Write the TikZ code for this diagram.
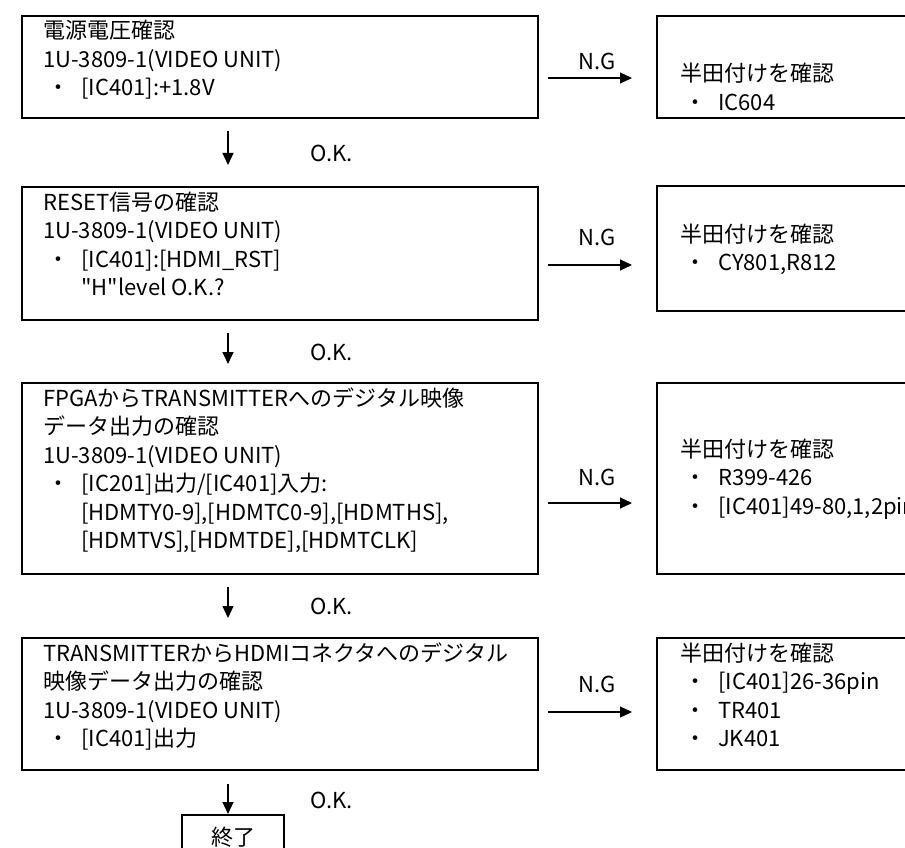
\documentclass[tikz,border=0pt]{standalone}
\usepackage{fontspec}
\setmainfont{Noto Sans CJK JP}
\newfontfamily\plainfont{Noto Sans CJK JP}
\usetikzlibrary{arrows.meta,calc}
\newcommand\tlines[1]{\vtop{\baselineskip=28.5pt\lineskiplimit=-100pt\halign{##\hfil\cr#1\crcr}}}
\newcommand\itm[1]{\kern4pt\hbox to 22pt{\hss ・\hss}\kern12pt #1}
\newcommand\cont[1]{\kern38pt #1}
\newcommand\sq{{\plainfont"}}
\begin{document}
\begin{tikzpicture}[x=1pt,y=-1pt,
  box/.style={draw, line width=2.2pt, inner sep=0pt, anchor=north west, font=\fontsize{22}{26}\selectfont},
  txt/.style={inner sep=0pt, anchor=base west, font=\fontsize{22}{28.5}\selectfont},
  arr/.style={line width=1.2pt, -{Triangle[length=12pt,width=11pt]}},
  lbl/.style={inner sep=0pt, font=\fontsize{22}{26}\selectfont}]
\useasboundingbox (0,0) rectangle (905,848);
\clip (0,0) rectangle (905,848);
% left boxes
\node[box, minimum width=516pt, minimum height=102pt] (b1) at (21,15) {};
\node[box, minimum width=516pt, minimum height=133pt] (b2) at (21,186) {};
\node[box, minimum width=516pt, minimum height=191pt] (b3) at (21,382) {};
\node[box, minimum width=516pt, minimum height=132pt] (b4) at (21,637) {};
% right boxes (cut off by the page edge)
\node[box, minimum width=400pt, minimum height=102pt] (r1) at (656,15) {};
\node[box, minimum width=400pt, minimum height=125pt] (r2) at (656,185) {};
\node[box, minimum width=400pt, minimum height=191pt] (r3) at (656,382) {};
\node[box, minimum width=400pt, minimum height=132pt] (r4) at (656,637) {};
% end box
\node[box, minimum width=102pt, minimum height=44pt] (e) at (181,814) {終了};
% texts
\node[txt] (t1) at (43,39) {\tlines{電源電圧確認\cr 1U-3809-1(VIDEO UNIT)\cr \itm{[IC401]:+1.8V}}};
\node[txt] (s1) at (680,82) {\tlines{半田付けを確認\cr \itm{IC604}}};
\node[txt] (t2) at (43,210) {\tlines{RESET信号の確認\cr 1U-3809-1(VIDEO UNIT)\cr \itm{[IC401]:[HDMI\_RST]}\cr \cont{\sq H\sq level O.K.?}}};
\node[txt] (s2) at (680,242) {\tlines{半田付けを確認\cr \itm{CY801,R812}}};
\node[txt] (t3) at (43,406) {\tlines{FPGAからTRANSMITTERへのデジタル映像\cr データ出力の確認\cr 1U-3809-1(VIDEO UNIT)\cr \itm{[IC201]出力/[IC401]入力:}\cr \cont{[HDMTY0-9],[HDMTC0-9],[HDMTHS],}\cr \cont{[HDMTVS],[HDMTDE],[HDMTCLK]}}};
\node[txt] (s3) at (680,457) {\tlines{半田付けを確認\cr \itm{R399-426}\cr \itm{[IC401]49-80,1,2pin}}};
\node[txt] (t4) at (43,661) {\tlines{TRANSMITTERからHDMIコネクタへのデジタル\cr 映像データ出力の確認\cr 1U-3809-1(VIDEO UNIT)\cr \itm{[IC401]出力}}};
\node[txt] (s4) at (680,661) {\tlines{半田付けを確認\cr \itm{[IC401]26-36pin}\cr \itm{TR401}\cr \itm{JK401}}};
% N.G arrows
\draw[arr] ($(b1.north east)+(9,63)$) -- ($(r1.north west)+(-24,63)$);
\draw[arr] ($(b2.north east)+(9,79)$) -- ($(r2.north west)+(-24,80)$);
\draw[arr] ($(b3.north east)+(9,121)$) -- ($(r3.north west)+(-24,121)$);
\draw[arr] ($(b4.north east)+(9,75)$) -- ($(r4.north west)+(-24,75)$);
\node[lbl] (n1) at (597,61) {N.G};
\node[lbl] (n2) at (597,237) {N.G};
\node[lbl] (n3) at (597,477) {N.G};
\node[lbl] (n4) at (597,684) {N.G};
% O.K. arrows
\draw[arr] ($(b1.south west)+(207,12)$) -- ($(b2.north west)+(207,-21)$);
\draw[arr] ($(b2.south west)+(207,12)$) -- ($(b3.north west)+(207,-18)$);
\draw[arr] ($(b3.south west)+(207,12)$) -- ($(b4.north west)+(207,-19)$);
\draw[arr] ($(b4.south west)+(207,13)$) -- ($(e.north west)+(47,0)$);
\node[lbl, anchor=west] (o1) at (310,153) {O.K.};
\node[lbl, anchor=west] (o2) at (310,352) {O.K.};
\node[lbl, anchor=west] (o3) at (310,606) {O.K.};
\node[lbl, anchor=west] (o4) at (310,800) {O.K.};
\end{tikzpicture}
\end{document}
